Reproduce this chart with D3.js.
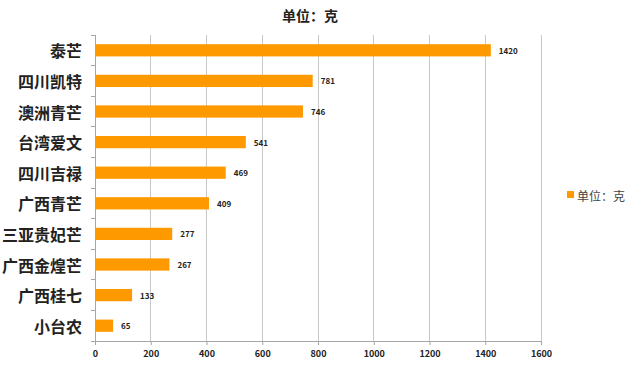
<!DOCTYPE html>
<html><head><meta charset="utf-8">
<script src="https://cdn.jsdelivr.net/npm/d3@7"></script>
<style>body{margin:0;background:#fff}svg{display:block}</style>
</head><body>
<svg id="c" width="640" height="365"></svg>
<script>
const categories = ["泰芒","四川凯特","澳洲青芒","台湾爱文","四川吉禄","广西青芒","三亚贵妃芒","广西金煌芒","广西桂七","小台农"];
const values = [1420,781,746,541,469,409,277,267,133,65];
const xTicks = [0,200,400,600,800,1000,1200,1400,1600];
const seriesName = "单位：克";
const titleText = "单位：克";

const svg = d3.select("#c");
const L = 95, R = 541, T = 35, B = 341;
const font = "'Noto Sans CJK SC', 'Microsoft YaHei', sans-serif";
const x = d3.scaleLinear().domain([0,1600]).range([L,R]);
const y = d3.scaleBand().domain(categories).range([T,B]).paddingInner(0.6).paddingOuter(0.3);
const yb = d3.scaleBand().domain(categories).range([T,B]);
const orange = "#FF9900";

// gridlines
svg.append("g").selectAll("line").data(xTicks.slice(1)).join("line")
  .attr("x1", d=>x(d)).attr("x2", d=>x(d)).attr("y1", T).attr("y2", B)
  .attr("stroke", "#c8c8c8").attr("stroke-width", 1).attr("shape-rendering","crispEdges");

// x axis
const xa = svg.append("g").attr("transform", `translate(0,${B})`)
  .call(d3.axisBottom(x).tickValues(xTicks).tickFormat(d3.format("d")).tickSize(4).tickPadding(6));
xa.select(".domain").attr("stroke", "#a6a6a6");
xa.selectAll(".tick line").attr("stroke", "#a6a6a6");
xa.selectAll("text").attr("font-family", font).attr("font-size", 9).attr("font-weight", "bold").attr("fill", "#222");

// y axis line and ticks
svg.append("line").attr("x1", L).attr("x2", L).attr("y1", T).attr("y2", B)
  .attr("stroke", "#a6a6a6").attr("shape-rendering","crispEdges");
const bounds = categories.map(c=>yb(c)).concat([B]);
svg.append("g").selectAll("line").data(bounds).join("line")
  .attr("x1", L-4).attr("x2", L).attr("y1", d=>d).attr("y2", d=>d)
  .attr("stroke", "#a6a6a6").attr("shape-rendering","crispEdges");

// category labels
svg.append("g").selectAll("text").data(categories).join("text")
  .attr("x", L-13).attr("y", d=>yb(d)+yb.bandwidth()/2)
  .attr("text-anchor","end").attr("dominant-baseline","central")
  .attr("font-family", font).attr("font-size", 16).attr("font-weight","bold").attr("fill","#222")
  .text(d=>d);

// bars
svg.append("g").selectAll("rect").data(values).join("rect")
  .attr("x", x(0)).attr("y", (d,i)=>y(categories[i]))
  .attr("width", d=>x(d)-x(0)).attr("height", y.bandwidth())
  .attr("fill", orange);

// value labels
svg.append("g").selectAll("text").data(values).join("text")
  .attr("x", d=>x(d)+8).attr("y", (d,i)=>yb(categories[i])+yb.bandwidth()/2)
  .attr("dominant-baseline","central")
  .attr("font-family", font).attr("font-size", 8).attr("font-weight","bold").attr("fill","#222")
  .text(d=>d);

// title
svg.append("text").attr("x", 310).attr("y", 15).attr("text-anchor","middle")
  .attr("dominant-baseline","central")
  .attr("font-family", font).attr("font-size", 14).attr("font-weight","bold").attr("fill","#222")
  .text(titleText);

// legend
svg.append("rect").attr("x", 567).attr("y", 191).attr("width", 7).attr("height", 7).attr("fill", orange);
svg.append("text").attr("x", 577).attr("y", 195).attr("dominant-baseline","central")
  .attr("font-family", font).attr("font-size", 12).attr("fill","#444").text(seriesName);
</script>
</body></html>
